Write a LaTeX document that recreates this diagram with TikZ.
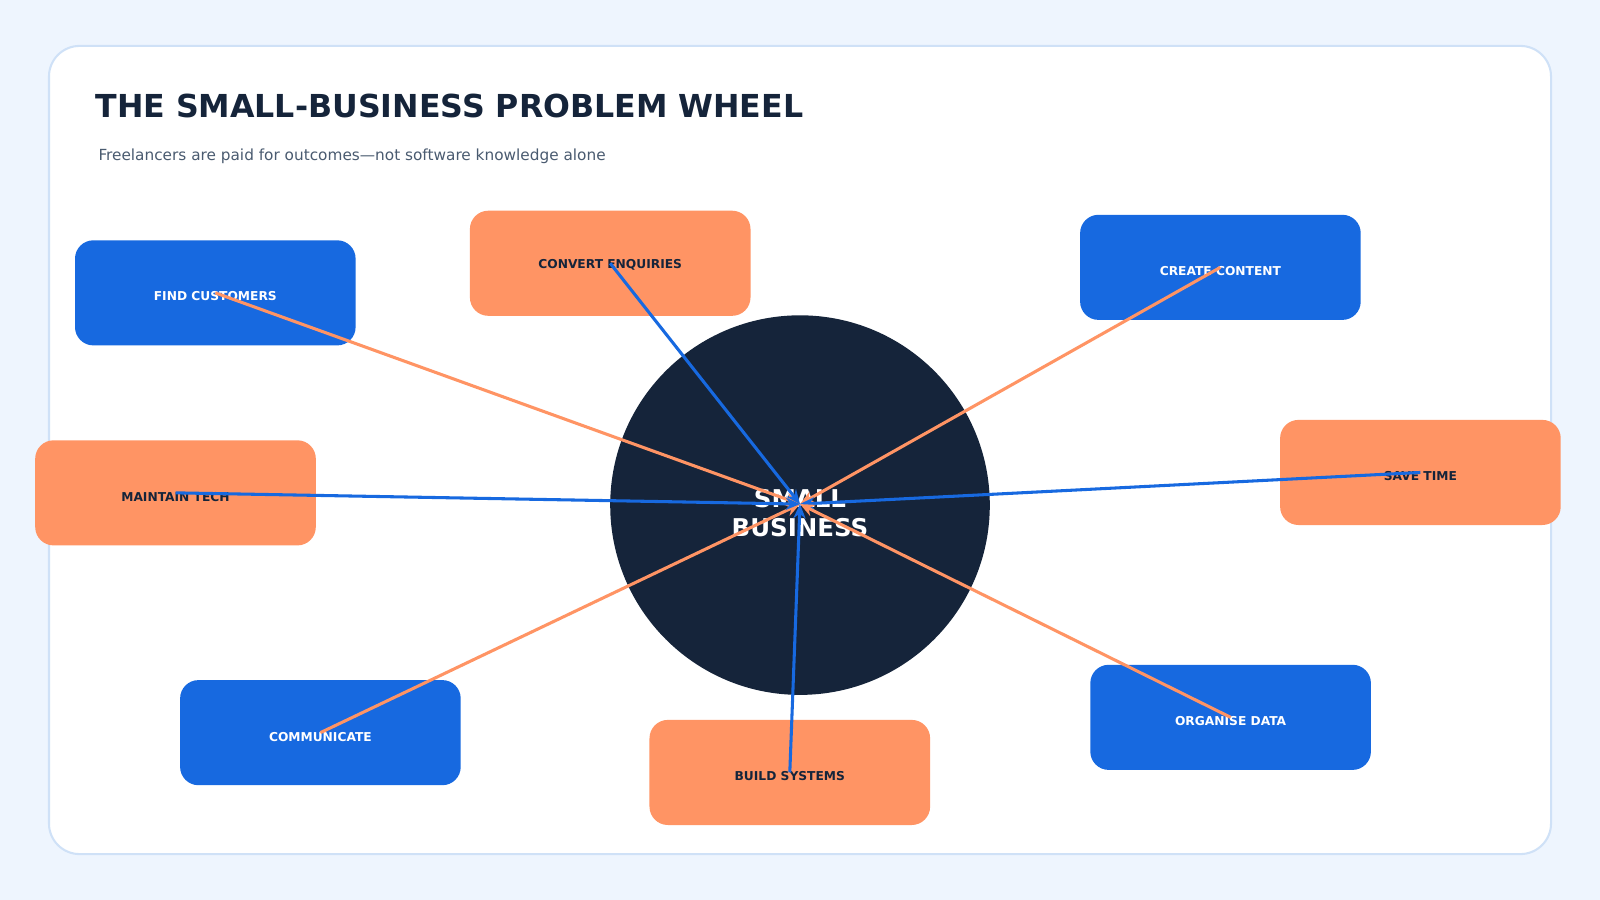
\documentclass[tikz,border=0pt]{standalone}
\usepackage{fontspec}
\setmainfont{DejaVu Sans}
\usetikzlibrary{arrows.meta}
\definecolor{bg}{HTML}{EEF5FE}
\definecolor{cardb}{HTML}{CFE1F7}
\definecolor{bl}{HTML}{1769E0}
\definecolor{orr}{HTML}{FF9464}
\definecolor{dk}{HTML}{15243A}
\definecolor{sub}{HTML}{4A5B70}
\begin{document}
\begin{tikzpicture}[x=1pt,y=-1pt,
 box/.style={rounded corners=18pt,minimum width=275pt,minimum height=103pt,inner sep=0pt},
 bbox/.style={box,fill=bl,text=white},
 obox/.style={box,fill=orr,text=dk},
 lab/.style={font=\bfseries\fontsize{12}{14}\selectfont},
 conn/.style={line width=3pt,-{Stealth[length=14pt,width=12pt]}}]
\fill[bg] (0,0) rectangle (1568,882);
\useasboundingbox (0,0) rectangle (1568,882);
\draw[fill=white,draw=cardb,line width=2pt,rounded corners=30pt] (48,45) rectangle (1520,837);
\node[anchor=west,text=dk,font=\bfseries\fontsize{31}{36}\selectfont] (title) at (90,104) {THE SMALL-BUSINESS PROBLEM WHEEL};
\node[anchor=west,text=sub,font=\fontsize{15}{18}\selectfont] (subt) at (93,153) {Freelancers are paid for outcomes—not software knowledge alone};
\node[circle,fill=dk,minimum size=372pt,inner sep=0pt] (hub) at (784,495) {};
\node[text=white,align=center,font=\bfseries\fontsize{24}{28}\selectfont] (hubt) at (784,503) {SMALL\\BUSINESS};
\coordinate (c) at (784,494);
\node[bbox] (fc) at (211,287) {}; \node[lab,text=white] (fct) at (211,290) {FIND CUSTOMERS};
\node[obox] (ce) at (598,258) {}; \node[lab,text=dk] (cet) at (598,260) {CONVERT ENQUIRIES};
\node[bbox] (cc) at (1196,262) {}; \node[lab,text=white] (cct) at (1196,266) {CREATE CONTENT};
\node[obox] (st) at (1392,463) {}; \node[lab,text=dk] (stt) at (1392,467) {SAVE TIME};
\node[bbox] (od) at (1206,703) {}; \node[lab,text=white] (odt) at (1206,707) {ORGANISE DATA};
\node[obox] (bs) at (774,757) {}; \node[lab,text=dk] (bst) at (774,761) {BUILD SYSTEMS};
\node[bbox] (cm) at (314,718) {}; \node[lab,text=white] (cmt) at (314,722) {COMMUNICATE};
\node[obox] (mt) at (172,483) {}; \node[lab,text=dk] (mtt) at (172,487) {MAINTAIN TECH};
\draw[conn,orr] (fc.center) -- (c);
\draw[conn,bl] (ce.center) -- (c);
\draw[conn,orr] (cc.center) -- (c);
\draw[conn,bl] (st.center) -- (c);
\draw[conn,orr] (od.center) -- (c);
\draw[conn,bl] (bs.center) -- (c);
\draw[conn,orr] (cm.center) -- (c);
\draw[conn,bl] (mt.center) -- (c);
\end{tikzpicture}
\end{document}
